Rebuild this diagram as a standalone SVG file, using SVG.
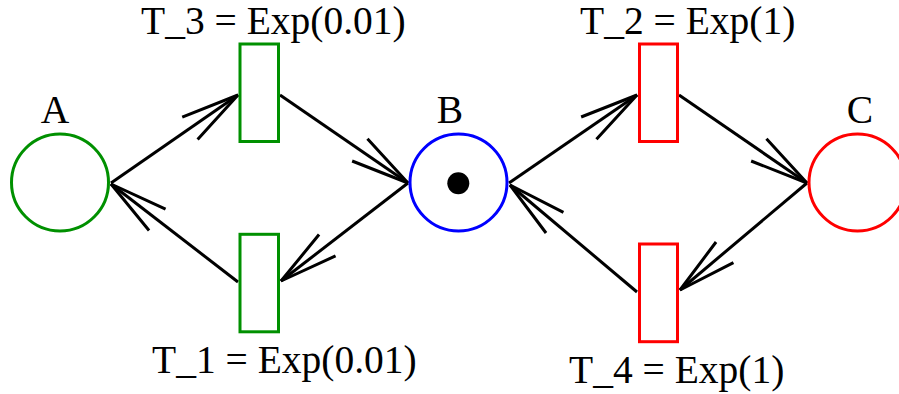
<svg xmlns="http://www.w3.org/2000/svg" width="899" height="394" viewBox="0 0 899 394">
<style>
.lbl{font-family:"Liberation Serif","Times New Roman",serif;font-size:39.5px;fill:#000}
.place{fill:#fff;stroke-width:3}
.trans{fill:#fff;stroke-width:3}
.g{stroke:#009000}
.r{stroke:#ff0000}
.b{stroke:#0000ff}
.arc{stroke:#000;stroke-width:3;fill:none;marker-end:url(#ah)}
</style>
<defs>
<marker id="ah" markerUnits="userSpaceOnUse" orient="auto" refX="0" refY="0" markerWidth="80" markerHeight="40" viewBox="-70 -20 80 40" overflow="visible">
<path d="M-58.5,-13.5 L0,0 L-58.5,13.5" fill="none" stroke="#000" stroke-width="3" stroke-linejoin="miter"/>
</marker>
</defs>
<rect width="899" height="394" fill="#fff"/>
<g id="connectors">
<line class="arc" x1="111" y1="183" x2="238" y2="95"/>
<line class="arc" x1="280" y1="95" x2="408" y2="183"/>
<line class="arc" x1="408" y1="183" x2="281" y2="281"/>
<line class="arc" x1="238" y1="282" x2="111" y2="184"/>
<line class="arc" x1="509" y1="183" x2="637" y2="95"/>
<line class="arc" x1="679" y1="95" x2="807" y2="183"/>
<line class="arc" x1="807" y1="183" x2="680" y2="290"/>
<line class="arc" x1="637" y1="292" x2="510" y2="185"/>
</g>
<g id="A">
<circle class="place g" cx="60" cy="182.5" r="48.5"/>
<text class="lbl" x="55" y="123" text-anchor="middle">A</text>
</g>
<g id="B">
<circle class="place b" cx="458.5" cy="182.5" r="48.5"/>
<circle cx="458.3" cy="183.3" r="11" fill="#000"/>
<text class="lbl" x="450" y="123" text-anchor="middle">B</text>
</g>
<g id="C">
<circle class="place r" cx="857.5" cy="182.5" r="48.5"/>
<text class="lbl" x="860" y="123" text-anchor="middle">C</text>
</g>
<g id="T3">
<rect class="trans g" x="240" y="44" width="38.5" height="97.5"/>
<text class="lbl" x="141" y="34">T_3 = Exp(0.01)</text>
</g>
<g id="T1">
<rect class="trans g" x="240" y="234.3" width="38.5" height="97.5"/>
<text class="lbl" x="152" y="373">T_1 = Exp(0.01)</text>
</g>
<g id="T2">
<rect class="trans r" x="639.5" y="44" width="38" height="97.5"/>
<text class="lbl" x="580" y="34">T_2 = Exp(1)</text>
</g>
<g id="T4">
<rect class="trans r" x="639.5" y="244" width="38" height="97.7"/>
<text class="lbl" x="569" y="383">T_4 = Exp(1)</text>
</g>
</svg>
